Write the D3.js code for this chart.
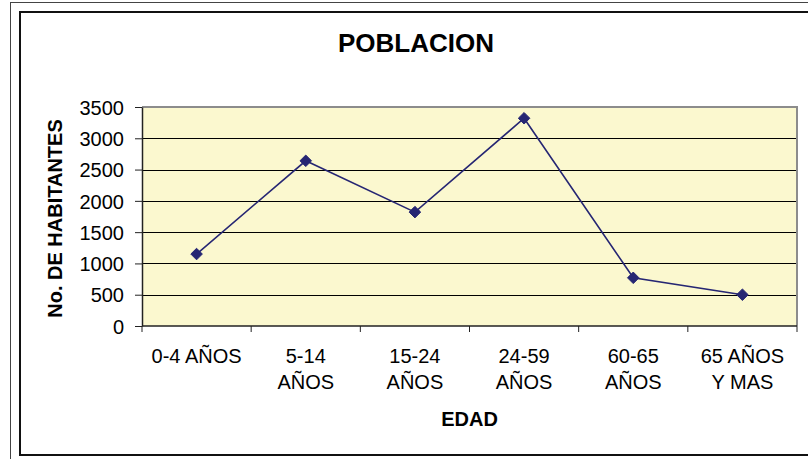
<!DOCTYPE html>
<html>
<head>
<meta charset="utf-8">
<script src="https://cdn.jsdelivr.net/npm/d3@7"></script>
<style>
  body { margin: 0; background: #fff; }
  svg text { font-family: "Liberation Sans", Arial, sans-serif; fill: #000; }
</style>
</head>
<body>
<div id="chart"></div>
<script>
// datos
var categorias = ["0-4 AÑOS", "5-14 AÑOS", "15-24 AÑOS", "24-59 AÑOS", "60-65 AÑOS", "65 AÑOS Y MAS"];
var etiquetas = [["0-4 AÑOS"], ["5-14", "AÑOS"], ["15-24", "AÑOS"], ["24-59", "AÑOS"], ["60-65", "AÑOS"], ["65 AÑOS", "Y MAS"]];
var habitantes = [1150, 2640, 1820, 3320, 770, 500];
var yTicks = [0, 500, 1000, 1500, 2000, 2500, 3000, 3500];

var width = 808, height = 459;
var plot = { left: 142, right: 797, top: 107, bottom: 326 };

var svg = d3.select("#chart").append("svg")
    .attr("width", width)
    .attr("height", height);

// marcos exteriores
svg.append("rect")
    .attr("x", 10.5).attr("y", 2.5)
    .attr("width", 820).attr("height", 480)
    .attr("fill", "none").attr("stroke", "#444").attr("stroke-width", 1);

svg.append("rect")
    .attr("x", 20).attr("y", 12)
    .attr("width", 800).attr("height", 443)
    .attr("fill", "#fff").attr("stroke", "#111").attr("stroke-width", 2);

var x = d3.scaleBand()
    .domain(categorias)
    .range([plot.left, plot.right])
    .padding(0);

var y = d3.scaleLinear()
    .domain([0, 3500])
    .range([plot.bottom, plot.top]);

// fondo del area de trazado
svg.append("rect")
    .attr("x", plot.left).attr("y", plot.top)
    .attr("width", plot.right - plot.left)
    .attr("height", plot.bottom - plot.top)
    .attr("fill", "#fbf8cf");

// lineas de division
svg.append("g").selectAll("line")
    .data(yTicks.filter(function(d) { return d > 0 && d < 3500; }))
    .enter().append("line")
    .attr("x1", plot.left).attr("x2", plot.right)
    .attr("y1", function(d) { return Math.round(y(d)) + 0.5; })
    .attr("y2", function(d) { return Math.round(y(d)) + 0.5; })
    .attr("stroke", "#000").attr("stroke-width", 1);

// borde gris arriba y derecha
svg.append("path")
    .attr("d", "M" + plot.left + "," + plot.top + "H" + plot.right + "V" + plot.bottom)
    .attr("fill", "none").attr("stroke", "#8c8c8c").attr("stroke-width", 2);

// eje Y
var yAxis = svg.append("g")
    .attr("transform", "translate(" + plot.left + ",0)")
    .call(d3.axisLeft(y).tickValues(yTicks).tickFormat(d3.format("d"))
        .tickSize(7).tickPadding(11).tickSizeOuter(0));
yAxis.select(".domain").attr("stroke", "#222").attr("stroke-width", 1.5);
yAxis.selectAll(".tick line").attr("stroke", "#222");
yAxis.selectAll(".tick text")
    .attr("font-size", 20).attr("font-family", "Liberation Sans, Arial, sans-serif")
    .attr("fill", "#000").attr("dy", "0.36em");

// eje X: marcas en los limites de cada categoria
var xAxis = svg.append("g");
xAxis.append("line")
    .attr("x1", plot.left).attr("x2", plot.right)
    .attr("y1", plot.bottom).attr("y2", plot.bottom)
    .attr("stroke", "#222").attr("stroke-width", 1.5);
xAxis.selectAll("line.tk")
    .data(categorias.map(function(c) { return x(c); }).concat([plot.right]))
    .enter().append("line")
    .attr("class", "tk")
    .attr("x1", function(d) { return d; }).attr("x2", function(d) { return d; })
    .attr("y1", plot.bottom).attr("y2", plot.bottom + 6)
    .attr("stroke", "#222");

var lbl = xAxis.selectAll("text.cat")
    .data(etiquetas)
    .enter().append("text")
    .attr("class", "cat")
    .attr("text-anchor", "middle")
    .attr("font-size", 20)
    .attr("x", function(d, i) { return x(categorias[i]) + x.bandwidth() / 2; })
    .attr("y", 363);
lbl.selectAll("tspan")
    .data(function(d) { return d; })
    .enter().append("tspan")
    .attr("x", function() { return d3.select(this.parentNode).attr("x"); })
    .attr("dy", function(d, i) { return i ? 26 : 0; })
    .text(function(d) { return d; });

// serie
var puntos = habitantes.map(function(v, i) {
    return [x(categorias[i]) + x.bandwidth() / 2, y(v)];
});

svg.append("path")
    .datum(puntos)
    .attr("d", d3.line())
    .attr("fill", "none")
    .attr("stroke", "#262673")
    .attr("stroke-width", 1.6);

svg.append("g").selectAll("path")
    .data(puntos)
    .enter().append("path")
    .attr("transform", function(d) { return "translate(" + d[0] + "," + d[1] + ")"; })
    .attr("d", d3.symbol().type(d3.symbolDiamond2).size(85))
    .attr("fill", "#262673")
    .attr("stroke", "#262673")
    .attr("stroke-width", 1);

// titulos
svg.append("text")
    .attr("x", 416).attr("y", 52)
    .attr("text-anchor", "middle")
    .attr("font-size", 26).attr("font-weight", "bold")
    .text("POBLACION");

svg.append("text")
    .attr("x", (plot.left + plot.right) / 2).attr("y", 426)
    .attr("text-anchor", "middle")
    .attr("font-size", 20).attr("font-weight", "bold")
    .text("EDAD");

svg.append("text")
    .attr("transform", "translate(62," + ((plot.top + plot.bottom) / 2 + 2) + ") rotate(-90)")
    .attr("text-anchor", "middle")
    .attr("font-size", 20).attr("font-weight", "bold")
    .text("No. DE HABITANTES");
</script>
</body>
</html>
